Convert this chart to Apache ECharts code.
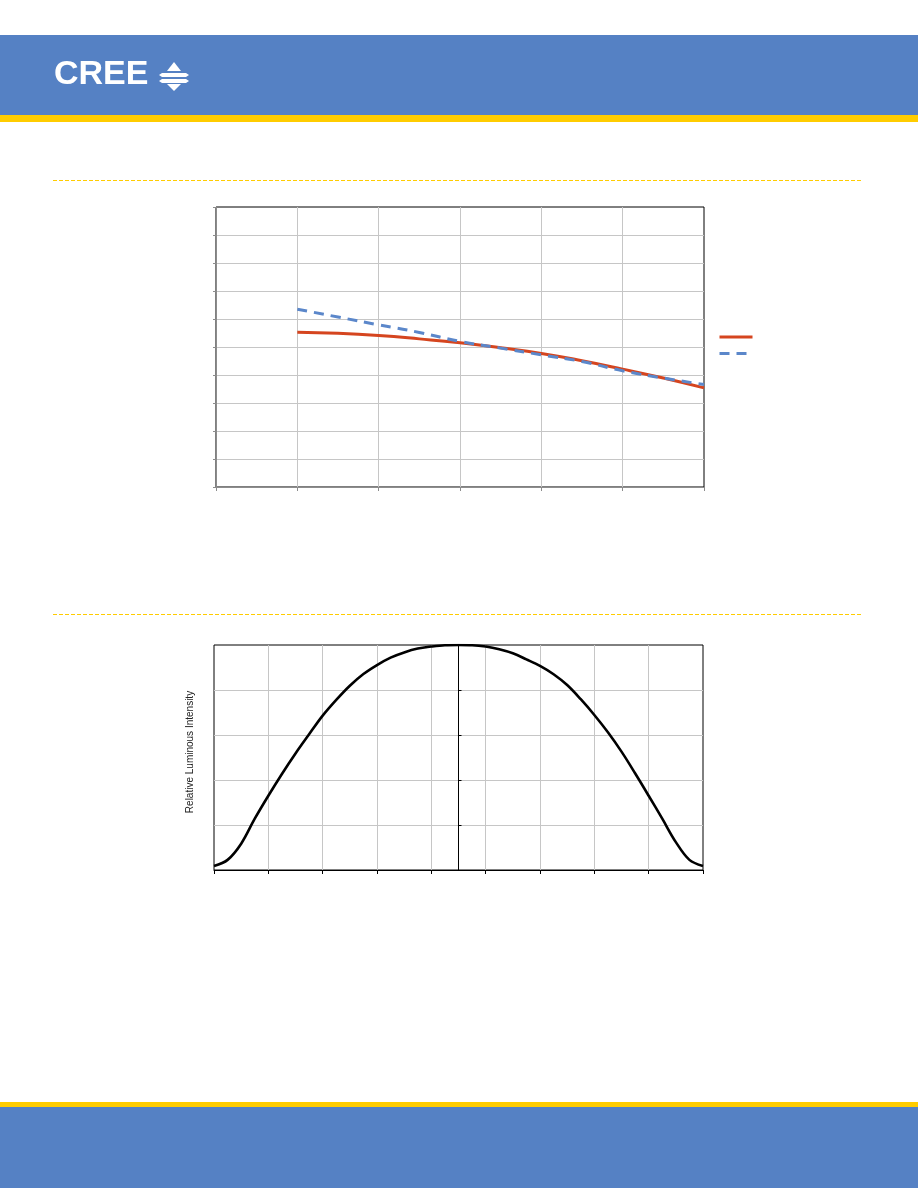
<!DOCTYPE html>
<html>
<head>
<meta charset="utf-8">
<script src="https://cdn.jsdelivr.net/npm/echarts@6/dist/echarts.min.js"></script>
<style>
html,body{margin:0;padding:0;background:#ffffff;}
#c{width:918px;height:1188px;}
</style>
</head>
<body>
<div id="c"></div>
<script>
// ---- Chart 1 data (no axis labels shown in reference) ----
const chart1X = [1, 1.5, 2, 2.5, 3, 3.5, 4, 4.5, 5, 5.5, 6];
const redValues = [5.53, 5.49, 5.41, 5.29, 5.15, 4.97, 4.77, 4.51, 4.21, 3.89, 3.54];
const blueValues = [6.35, 6.07, 5.79, 5.52, 5.20, 4.96, 4.72, 4.48, 4.15, 3.89, 3.66];
const seriesNames = ['Series 1', 'Series 2'];

// ---- Chart 2 data: relative luminous intensity vs angle ----
const angles = [-90, -85, -80, -75, -70, -65, -60, -55, -50, -45, -40, -35, -30, -25, -20, -15, -10, -5, 0,
                5, 10, 15, 20, 25, 30, 35, 40, 45, 50, 55, 60, 65, 70, 75, 80, 85, 90];
const intensity = [0.018, 0.045, 0.117, 0.228, 0.330, 0.427, 0.518, 0.603, 0.686, 0.756, 0.819, 0.871, 0.911, 0.944, 0.967, 0.984, 0.993, 0.999, 1.0,
                   0.999, 0.993, 0.981, 0.963, 0.936, 0.907, 0.870, 0.822, 0.759, 0.689, 0.612, 0.526, 0.430, 0.330, 0.228, 0.124, 0.045, 0.018];
const yAxisTitle2 = 'Relative Luminous Intensity';
const logoText = 'CREE';

const BLUE_BAND = '#5581C4';
const YELLOW = '#FFCC00';
const GRID_GRAY = '#c6c6c6';
const AXIS_GRAY = '#8c8c8c';
const RED = '#D5451F';
const BLUE = '#5B87CA';

const chart = echarts.init(document.getElementById('c'), null, {renderer: 'canvas'});

const option = {
  backgroundColor: '#ffffff',
  animation: false,
  legend: {
    left: 718, top: 330, orient: 'vertical',
    itemWidth: 33, itemHeight: 14, itemGap: 4, padding: 0,
    data: seriesNames,
    formatter: function () { return ''; },
    textStyle: {fontSize: 1},
    itemStyle: {opacity: 0},
    lineStyle: {width: 3, inactiveWidth: 3}
  },
  grid: [
    {left: 216, top: 207, width: 488, height: 280, show: true, borderColor: '#000', borderWidth: 1, backgroundColor: 'transparent', outerBoundsMode: 'none'},
    {left: 214, top: 645, width: 489, height: 225, show: true, borderColor: '#000', borderWidth: 1, backgroundColor: 'transparent', outerBoundsMode: 'none'}
  ],
  xAxis: [
    {
      gridIndex: 0, type: 'value', min: 0, max: 6, interval: 1,
      axisLine: {show: true, lineStyle: {color: AXIS_GRAY, width: 1}},
      axisTick: {show: true, length: 4, lineStyle: {color: AXIS_GRAY}},
      axisLabel: {show: false},
      splitLine: {show: true, showMinLine: false, showMaxLine: false, lineStyle: {color: GRID_GRAY, width: 1}}
    },
    {
      gridIndex: 1, type: 'value', min: -90, max: 90, interval: 20,
      axisLine: {show: true, onZero: false, lineStyle: {color: '#000', width: 1}},
      axisTick: {show: true, length: 4, lineStyle: {color: '#000'}},
      axisLabel: {show: false},
      splitLine: {show: true, showMinLine: false, showMaxLine: false, lineStyle: {color: GRID_GRAY, width: 1}}
    }
  ],
  yAxis: [
    {
      gridIndex: 0, type: 'value', min: 0, max: 10, interval: 1,
      axisLine: {show: true, lineStyle: {color: AXIS_GRAY, width: 1}},
      axisTick: {show: true, length: 3, lineStyle: {color: AXIS_GRAY}},
      axisLabel: {show: false},
      splitLine: {show: true, showMinLine: false, showMaxLine: false, lineStyle: {color: GRID_GRAY, width: 1}}
    },
    {
      gridIndex: 1, type: 'value', min: 0, max: 1, interval: 0.2,
      axisLine: {show: true, onZero: true, lineStyle: {color: '#000', width: 1}},
      axisTick: {show: true, inside: true, length: 3, lineStyle: {color: '#000'}},
      axisLabel: {show: false},
      splitLine: {show: true, showMinLine: false, showMaxLine: false, lineStyle: {color: GRID_GRAY, width: 1}}
    }
  ],
  series: [
    {
      name: seriesNames[0], type: 'line', xAxisIndex: 0, yAxisIndex: 0,
      data: chart1X.map((x, i) => [x, redValues[i]]),
      smooth: true, showSymbol: false, symbol: 'none',
      lineStyle: {color: RED, width: 3}, itemStyle: {color: RED}, z: 3
    },
    {
      name: seriesNames[1], type: 'line', xAxisIndex: 0, yAxisIndex: 0,
      data: chart1X.map((x, i) => [x, blueValues[i]]),
      smooth: true, showSymbol: false, symbol: 'none',
      lineStyle: {color: BLUE, width: 3, type: [10, 7]}, itemStyle: {color: BLUE}, z: 4
    },
    {
      name: 'intensity', type: 'line', xAxisIndex: 1, yAxisIndex: 1,
      data: angles.map((a, i) => [a, intensity[i]]),
      smooth: 0.35, showSymbol: false, symbol: 'none',
      lineStyle: {color: '#000', width: 2.6}, itemStyle: {color: '#000'}, z: 5
    }
  ],
  graphic: [
    // header band
    {type: 'rect', shape: {x: 0, y: 35, width: 918, height: 80}, style: {fill: BLUE_BAND}, silent: true, z: -10},
    {type: 'rect', shape: {x: 0, y: 115, width: 918, height: 7}, style: {fill: YELLOW}, silent: true, z: -10},
    // logo
    {type: 'text', left: 54, top: 58, style: {text: logoText, fill: '#ffffff', font: 'bold 34px "Liberation Sans", Arial, sans-serif'}, silent: true, z: 10},
    {type: 'polygon', shape: {points: [[174, 62], [181, 71], [167, 71]]}, style: {fill: '#ffffff'}, silent: true, z: 10},
    {type: 'polygon', shape: {points: [[159, 75], [162, 73], [186, 73], [189, 75], [186, 77], [162, 77]]}, style: {fill: '#ffffff'}, silent: true, z: 10},
    {type: 'polygon', shape: {points: [[159, 81], [162, 79], [186, 79], [189, 81], [186, 83], [162, 83]]}, style: {fill: '#ffffff'}, silent: true, z: 10},
    {type: 'polygon', shape: {points: [[167, 84], [181, 84], [174, 91]]}, style: {fill: '#ffffff'}, silent: true, z: 10},
    // dashed separators
    {type: 'line', shape: {x1: 53, y1: 180.5, x2: 862, y2: 180.5}, style: {stroke: YELLOW, lineWidth: 1, lineDash: [4, 2]}, silent: true},
    {type: 'line', shape: {x1: 53, y1: 614.5, x2: 862, y2: 614.5}, style: {stroke: YELLOW, lineWidth: 1, lineDash: [4, 2]}, silent: true},
    // y-axis title of chart 2
    {type: 'text', x: 190, y: 752, rotation: Math.PI / 2,
     style: {text: yAxisTitle2, fill: '#222222', font: '10px "Liberation Sans", Arial, sans-serif', align: 'center', verticalAlign: 'middle'}, silent: true},
    // footer
    {type: 'rect', shape: {x: 0, y: 1102, width: 918, height: 6}, style: {fill: YELLOW}, silent: true, z: -10},
    {type: 'rect', shape: {x: 0, y: 1107, width: 918, height: 81}, style: {fill: BLUE_BAND}, silent: true, z: -10}
  ]
};
chart.setOption(option);
</script>
</body>
</html>
